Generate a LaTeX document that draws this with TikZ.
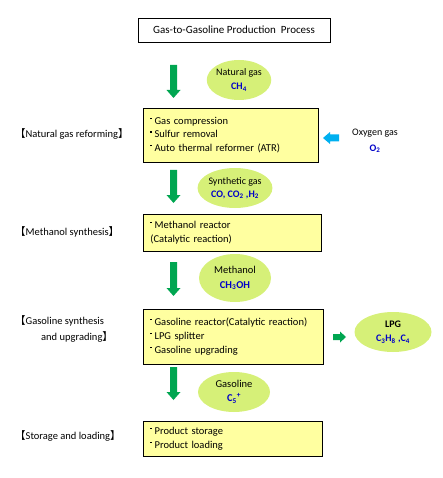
\documentclass[tikz,border=0pt]{standalone}
\usepackage{fontspec}
\setmainfont{Carlito}
\newfontfamily\cjk{Noto Sans CJK JP}
\usetikzlibrary{shapes.geometric}
\definecolor{boxfill}{RGB}{255,255,160}
\definecolor{ellfill}{RGB}{214,240,120}
\definecolor{garr}{RGB}{0,166,81}
\definecolor{carr}{RGB}{0,176,240}
\definecolor{formula}{RGB}{0,0,200}
\newcommand\bul{\raisebox{0.5em}{\rule{1.2pt}{1.2pt}}\hspace{3pt}}
\newcommand\lb{{\cjk 【}}
\newcommand\rb{{\cjk 】}}
\newcommand\fm[1]{{\color{formula}\bfseries #1}}
\newcommand\garrowdown[3]{% x, ytop, ytip
  \fill[garr] (#1-3.5,#2) -- (#1+3.5,#2) -- (#1+3.5,#3-8) -- (#1+7,#3-8) -- (#1,#3)
    -- (#1-7,#3-8) -- (#1-3.5,#3-8) -- cycle;}
\begin{document}
\begin{tikzpicture}[x=1pt,y=-1pt,
  every node/.style={font=\fontsize{10.5}{13.5}\selectfont, inner sep=0pt},
  titlebox/.style={draw, line width=0.8pt, fill=white, minimum width=192pt, minimum height=24pt},
  stepbox/.style={draw, line width=0.8pt, fill=boxfill, anchor=west, align=left,
     inner xsep=7pt},
  blob/.style={ellipse, fill=ellfill, align=center},
  stagelabel/.style={anchor=west, align=left}]
\useasboundingbox (0,0) rectangle (442,478);

\node[titlebox, font=\fontsize{11}{13}\selectfont] (title) at (234,30) {Gas-to-Gasoline Production\ \ Process};

% stage boxes
\node[stepbox, minimum width=175pt, minimum height=54pt, text width=161pt] (b1) at (143,135)
  {\bul Gas compression\\ \bul Sulfur removal\\ \bul Auto thermal reformer (ATR)};
\node[stepbox, minimum width=178pt, minimum height=37pt, text width=164pt,
  font=\fontsize{10.5}{14}\selectfont] (b2) at (143,232.5)
  {\bul Methanol reactor\\ (Catalytic reaction)};
\node[stepbox, minimum width=180pt, minimum height=55pt, text width=166pt,
  font=\fontsize{10.5}{14}\selectfont] (b3) at (143,336.5)
  {\bul Gasoline reactor(Catalytic reaction)\\ \bul LPG splitter\\ \bul Gasoline upgrading};
\node[stepbox, minimum width=179pt, minimum height=35pt, text width=165pt,
  font=\fontsize{10.5}{14}\selectfont] (b4) at (143,438.5)
  {\bul Product storage\\ \bul Product loading};

% stage labels
\node[stagelabel] (l1) at (15,134) {\lb Natural gas reforming\rb};
\node[stagelabel] (l2) at (15,232) {\lb Methanol synthesis\rb};
\node[stagelabel, font=\fontsize{10.5}{16}\selectfont] (l3) at (15,329)
  {\lb Gasoline synthesis\\ \hspace*{26pt}and upgrading\rb};
\node[stagelabel] (l4) at (15,436) {\lb Storage and loading\rb};

% streams
\node[blob, minimum width=62pt, minimum height=40pt, font=\fontsize{10}{14}\selectfont] (e1) at (239,80)
  {Natural gas\\ \fm{CH\textsubscript{4}}};
\node[blob, minimum width=74pt, minimum height=40pt, font=\fontsize{10}{13}\selectfont] (e2) at (235,188)
  {Synthetic gas\\ \fm{CO, CO\textsubscript{2} ,H\textsubscript{2}}};
\node[blob, minimum width=72pt, minimum height=48pt, font=\fontsize{10.5}{15}\selectfont] (e3) at (235,278)
  {Methanol\\ \fm{CH\textsubscript{3}OH}};
\node[blob, minimum width=77pt, minimum height=40pt, font=\fontsize{10}{14}\selectfont] (e4) at (393,332)
  {\textbf{LPG}\\ \fm{C\textsubscript{3}H\textsubscript{8} ,C\textsubscript{4}}};
\node[blob, minimum width=72pt, minimum height=40pt, font=\fontsize{10.5}{14}\selectfont] (e5) at (234,392)
  {Gasoline\\ \fm{C\textsubscript{5}\textsuperscript{+}}};
\node[align=center, font=\fontsize{10}{16}\selectfont] (ox) at (375,141)
  {Oxygen gas\\ \fm{O\textsubscript{2}}};

% block arrows
\garrowdown{173.5}{65}{98}
\garrowdown{173.5}{170}{203}
\garrowdown{173.5}{262}{296}
\garrowdown{173.5}{367}{400}
\fill[carr] (339,134.5) -- (330,134.5) -- (330,132) -- (323,138) -- (330,144)
  -- (330,141.5) -- (339,141.5) -- cycle;
\fill[garr] (333,334) -- (340,334) -- (340,331.5) -- (346,337) -- (340,342.5)
  -- (340,340) -- (333,340) -- cycle;
\end{tikzpicture}
\end{document}
